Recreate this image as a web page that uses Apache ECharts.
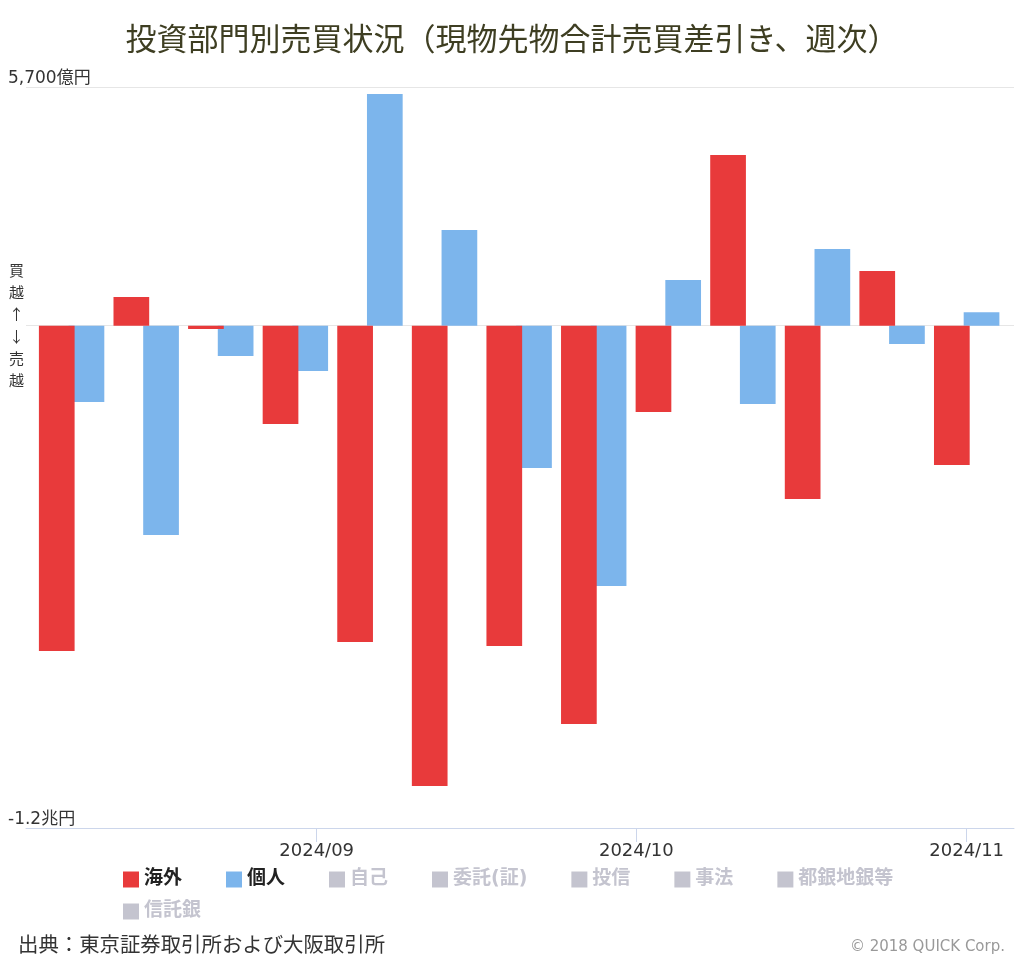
<!DOCTYPE html>
<html><head><meta charset="utf-8">
<script src="https://cdn.jsdelivr.net/npm/echarts@6/dist/echarts.min.js"></script>
<style>html,body{margin:0;padding:0;background:#fff}#c{width:1024px;height:964px}</style>
</head><body><div id="c"></div>
<script>
// ---- data ----
const weeks = ['2024-08-09','2024-08-16','2024-08-23','2024-08-30','2024-09-06','2024-09-13','2024-09-20','2024-09-27','2024-10-04','2024-10-11','2024-10-18','2024-10-25','2024-11-01'];
const overseas = [-7773, 683, -81, -2350, -7558, -10998, -7654, -9517, -2064, 4075, -4142, 1304, -3330];
const individual = [-1825, -5002, -726, -1084, 5532, 2284, -3401, -6220, 1089, -1873, 1830, -440, 318];
const monthTicks = ['2024-09-01','2024-10-01','2024-11-01'];
const yTickValues = [-12000, 5700];
const gridLineValues = [0, 5700];
const hiddenNames = ['自己','委託(証)','投信','事法','都銀地銀等','信託銀'];
const xRange = ['2024-08-04 17:17', '2024-11-05 10:34'];
const yRange = [-12000, 5700];

const FONT = "'DejaVu Sans','Noto Sans CJK JP',sans-serif";
const CJK = "'Noto Sans CJK JP',sans-serif";
const parse = s => +echarts.time.parse(s);

const chart = echarts.init(document.getElementById('c'), null, {renderer: 'canvas'});
const pair = (arr) => weeks.map((w, i) => [parse(w), arr[i]]);

const selected = {};
hiddenNames.forEach(n => selected[n] = false);

const series = [
  {
    name: '海外', type: 'bar', data: pair(overseas), z: 3,
    barWidth: 35.7, barGap: '-16.8%',
    itemStyle: {color: '#e83a3b'}, animation: false
  },
  {
    name: '個人', type: 'bar', data: pair(individual), z: 2,
    barWidth: 35.7, barGap: '-16.8%',
    itemStyle: {color: '#7cb5ec'}, animation: false,
    markLine: {
      silent: true, symbol: 'none', z: 1, animation: false,
      label: {show: false},
      lineStyle: {color: '#e6e6e6', width: 1, type: 'solid'},
      emphasis: {disabled: true},
      data: gridLineValues.map(v => ({yAxis: v}))
    }
  }
];
hiddenNames.forEach(n => series.push({name: n, type: 'bar', data: [], itemStyle: {color: '#c4c4cf'}}));

chart.setOption({
  animation: false,
  backgroundColor: '#ffffff',
  title: [
    {
      text: '投資部門別売買状況（現物先物合計売買差引き、週次）',
      left: 'center', top: 23, padding: 0,
      textStyle: {fontFamily: CJK, fontSize: 31, fontWeight: 'normal', color: '#3e3e22'}
    },
    {
      text: '買\n越\n↑\n↓\n売\n越',
      left: 9, top: 259, padding: 0,
      textStyle: {fontFamily: CJK, fontSize: 15, fontWeight: 'normal', color: '#333', lineHeight: 22}
    },
    {
      text: '出典：東京証券取引所および大阪取引所',
      left: 18, top: 934, padding: 0,
      textStyle: {fontFamily: CJK, fontSize: 20.4, fontWeight: 'normal', color: '#333'}
    },
    {
      text: '© 2018 QUICK Corp.',
      right: 19, top: 940, padding: 0,
      textStyle: {fontFamily: FONT, fontSize: 15, fontWeight: 'normal', color: '#999'}
    }
  ],
  legend: [
    {
      data: ['海外','個人','自己','委託(証)','投信','事法','都銀地銀等'],
      left: 123, top: 870, padding: 0, itemGap: 44,
      itemWidth: 16, itemHeight: 16, icon: 'rect',
      selected: selected, inactiveColor: '#c4c4cf',
      textStyle: {fontFamily: FONT, fontSize: 19, fontWeight: 'bold', color: '#222'}
    },
    {
      data: ['信託銀'],
      left: 123, top: 902, padding: 0,
      itemWidth: 16, itemHeight: 16, icon: 'rect',
      selected: selected, inactiveColor: '#c4c4cf',
      textStyle: {fontFamily: FONT, fontSize: 19, fontWeight: 'bold', color: '#222'}
    }
  ],
  grid: {left: 26, right: 10, top: 87, bottom: 136, containLabel: false},
  xAxis: {
    type: 'value',
    min: parse(xRange[0]), max: parse(xRange[1]),
    axisLine: {show: true, onZero: false, lineStyle: {color: '#ccd6eb', width: 1}},
    axisTick: {show: true, length: 14, lineStyle: {color: '#ccd6eb'}, customValues: monthTicks.map(parse)},
    axisLabel: {
      show: true, margin: 14, color: '#333', fontFamily: FONT, fontSize: 18,
      customValues: monthTicks.map(parse),
      formatter: v => echarts.time.format(v, '{yyyy}/{MM}', false)
    },
    splitLine: {show: false}, minorTick: {show: false}
  },
  yAxis: {
    type: 'value', min: yRange[0], max: yRange[1],
    axisLine: {show: false}, axisTick: {show: false, customValues: yTickValues},
    splitLine: {show: false},
    axisLabel: {
      show: true, customValues: yTickValues, align: 'left', verticalAlign: 'bottom',
      margin: 18, color: '#333', fontFamily: FONT, fontSize: 17,
      formatter: v => v === 5700 ? '5,700億円' : (v === -12000 ? '-1.2兆円' : '')
    }
  },
  series: series
});
</script></body></html>
